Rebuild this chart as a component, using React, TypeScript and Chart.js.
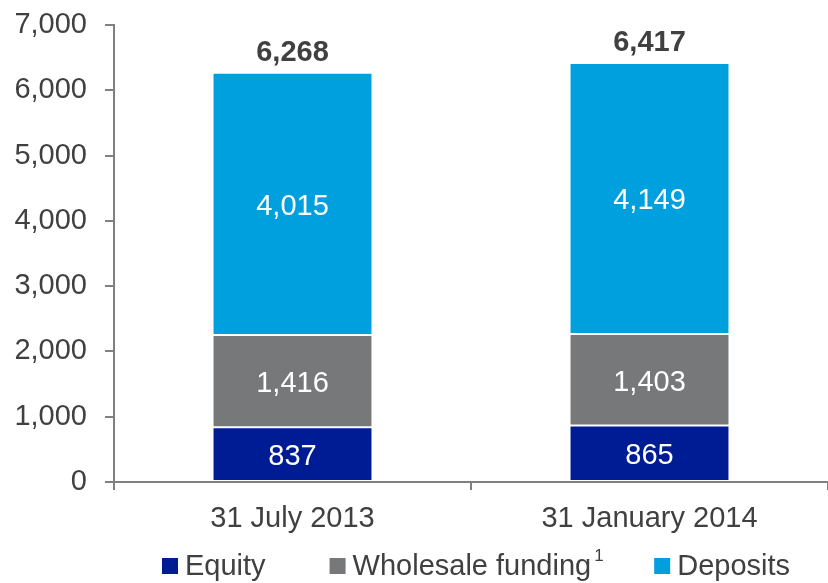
import React, { useEffect, useRef } from "react";
import { Chart, registerables } from "chart.js";

Chart.register(...registerables);

const categories = ["31 July 2013", "31 January 2014"];
const equity = [837, 865];
const wholesale = [1416, 1403];
const deposits = [4015, 4149];
const totals = [6268, 6417];
const seriesNames = ["Equity", "Wholesale funding", "Deposits"];
const colors = ["#001C94", "#77787A", "#00A0DF"];

const FONT = "'Liberation Sans', Arial, sans-serif";
const TEXT = "#404040";

const fmt = (v: number) => v.toLocaleString("en-US");

const labelsPlugin = {
  id: "valueLabels",
  afterDatasetsDraw(chart: any) {
    const ctx = chart.ctx;
    ctx.save();
    ctx.textAlign = "center";
    ctx.textBaseline = "middle";
    ctx.font = `29px ${FONT}`;
    ctx.fillStyle = "#ffffff";
    chart.data.datasets.forEach((ds: any, di: number) => {
      const meta = chart.getDatasetMeta(di);
      meta.data.forEach((bar: any, i: number) => {
        const { x, y, base } = bar.getProps(["x", "y", "base"], true);
        ctx.fillText(fmt(ds.data[i]), x, (y + base) / 2 + 3);
      });
    });
    const top = chart.getDatasetMeta(chart.data.datasets.length - 1);
    ctx.font = `bold 29px ${FONT}`;
    ctx.fillStyle = TEXT;
    top.data.forEach((bar: any, i: number) => {
      const { x, y } = bar.getProps(["x", "y"], true);
      ctx.fillText(fmt(totals[i]), x, y - 20);
    });
    ctx.restore();
  },
};

const legendPlugin = {
  id: "customLegend",
  afterDraw(chart: any) {
    const ctx = chart.ctx;
    ctx.save();
    ctx.font = `29px ${FONT}`;
    ctx.textBaseline = "middle";
    ctx.textAlign = "left";
    const box = 16;
    const gap = 7;
    const itemGaps = [64, 53];
    const supW = 10;
    const widths = seriesNames.map(
      (n, i) => box + gap + ctx.measureText(n).width + (i === 1 ? supW : 0)
    );
    const total = widths.reduce((a, b) => a + b, 0) + itemGaps.reduce((a, b) => a + b, 0);
    const area = chart.chartArea;
    let x = (area.left + area.right) / 2 + 5 - total / 2;
    const y = 567;
    seriesNames.forEach((n, i) => {
      ctx.fillStyle = colors[i];
      ctx.fillRect(x, y - box / 2 - 1, box, box);
      ctx.fillStyle = TEXT;
      ctx.font = `29px ${FONT}`;
      const tx = x + box + gap;
      ctx.fillText(n, tx, y);
      if (i === 1) {
        const w = ctx.measureText(n).width;
        ctx.font = `17px ${FONT}`;
        ctx.fillText("1", tx + w + 3, y - 11);
      }
      x += widths[i] + (itemGaps[i] || 0);
    });
    ctx.restore();
  },
};

export default function App() {
  const ref = useRef<HTMLCanvasElement | null>(null);
  useEffect(() => {
    if (!ref.current) return;
    const mk = (label: string, data: number[], color: string) => ({
      label,
      data,
      backgroundColor: color,
      borderColor: "rgba(255,255,255,0.55)",
      borderWidth: 1,
      borderSkipped: false,
      barPercentage: 0.448,
      categoryPercentage: 1,
    });
    const chart = new Chart(ref.current, {
      type: "bar",
      data: {
        labels: categories,
        datasets: [
          mk(seriesNames[0], equity, colors[0]),
          mk(seriesNames[1], wholesale, colors[1]),
          mk(seriesNames[2], deposits, colors[2]),
        ],
      },
      options: {
        responsive: false,
        animation: false,
        layout: { padding: { top: 25, right: 0, left: 0, bottom: 0 } },
        plugins: {
          legend: { display: false },
          tooltip: { enabled: false },
        },
        scales: {
          x: {
            stacked: true,
            offset: true,
            grid: {
              offset: true,
              drawOnChartArea: false,
              drawTicks: true,
              tickLength: 8,
              color: "#808080",
              lineWidth: 2,
            },
            border: { color: "#808080", width: 2 },
            ticks: {
              color: TEXT,
              font: { family: FONT, size: 29 },
              padding: 12,
              maxRotation: 0,
            },
            afterFit: (s: any) => {
              s.height = 101;
              s.paddingLeft = 0;
              s.paddingRight = 0;
            },
          },
          y: {
            stacked: true,
            min: 0,
            max: 7000,
            grid: {
              drawOnChartArea: false,
              drawTicks: true,
              tickLength: 9,
              color: "#808080",
              lineWidth: 2,
            },
            border: { color: "#808080", width: 2 },
            ticks: {
              stepSize: 1000,
              color: TEXT,
              font: { family: FONT, size: 29 },
              padding: 18,
              callback: (v: any) => fmt(Number(v)),
            },
            afterFit: (s: any) => {
              s.width = 114;
              s.paddingTop = 0;
              s.paddingBottom = 0;
            },
          },
        },
      },
      plugins: [labelsPlugin, legendPlugin],
    });
    return () => chart.destroy();
  }, []);
  return (
    <div style={{ position: "fixed", left: 0, top: 0, width: 828, height: 583, background: "#fff" }}>
      <canvas ref={ref} width={828} height={583} />
    </div>
  );
}
